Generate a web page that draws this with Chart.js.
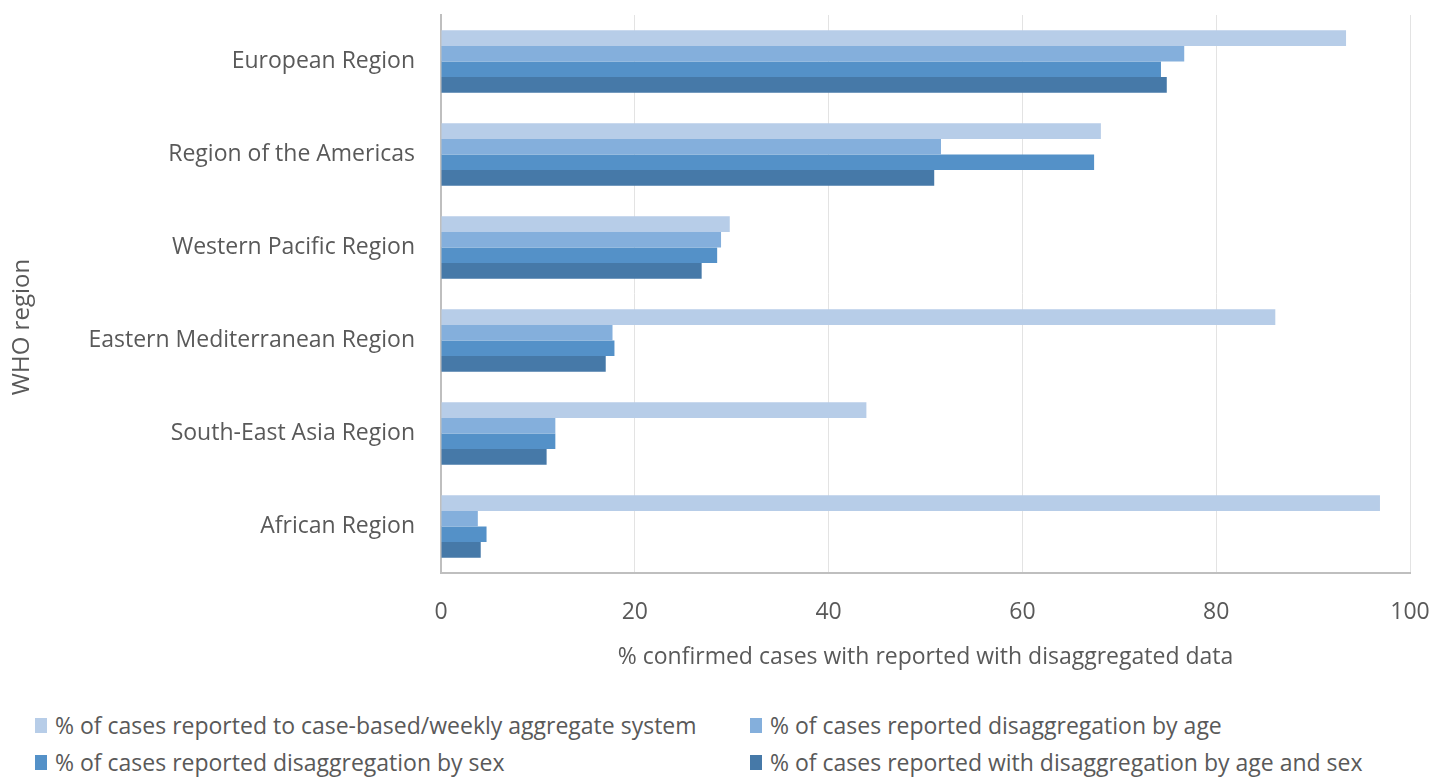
<!DOCTYPE html>
<html>
<head>
<meta charset="utf-8">
<script src="https://cdn.jsdelivr.net/npm/chart.js@4"></script>
<style>
  body { margin: 0; background: #fff; font-family: "Open Sans", sans-serif; }
  #wrap { position: relative; width: 1435px; height: 778px; }
  #chartBox { position: absolute; left: 0; top: 0; width: 1435px; height: 690px; }
  #legend { position: absolute; left: 35px; top: 709px; width: 1400px;
            display: grid; grid-template-columns: 715px 650px; row-gap: 5px;
            color: #595959; font-size: 23px; line-height: 32px; }
  #legend .item { display: flex; align-items: center; white-space: nowrap; }
  #legend .box { width: 12px; height: 15px; margin-right: 8px; }
</style>
</head>
<body>
<div id="wrap">
  <div id="chartBox"><canvas id="mainChart"></canvas></div>
  <div id="legend"></div>
</div>
<script>
// categories (top to bottom)
const regions = ['European Region', 'Region of the Americas', 'Western Pacific Region',
                 'Eastern Mediterranean Region', 'South-East Asia Region', 'African Region'];

// series values (%)
const caseBased = [93.4, 68.1, 29.8, 86.1, 43.9, 96.9];
const byAge     = [76.7, 51.6, 28.9, 17.7, 11.8, 3.8];
const bySex     = [74.3, 67.4, 28.5, 17.9, 11.8, 4.7];
const byAgeSex  = [74.9, 50.9, 26.9, 17.0, 10.9, 4.1];

const seriesNames = [
    '% of cases reported to case-based/weekly aggregate system',
    '% of cases reported disaggregation by  age',
    '% of cases reported disaggregation by sex',
    '% of cases reported with disaggregation by age and sex'
];
const seriesColors = ['#B7CDE8', '#84AFDC', '#5491C8', '#4679A8'];

const xTicks = [0, 20, 40, 60, 80, 100];

const textColor = '#595959';
const fontFam = '"Open Sans", sans-serif';

// y axis title, drawn centred on the whole chart height (like the original)
const yTitlePlugin = {
    id: 'yTitle',
    afterDraw(chart) {
        const c = chart.ctx;
        c.save();
        c.translate(22, 327);
        c.rotate(-Math.PI / 2);
        c.fillStyle = textColor;
        c.font = '24px ' + fontFam;
        c.textAlign = 'center';
        c.textBaseline = 'middle';
        c.fillText('WHO region', 0, 0);
        c.restore();
    }
};

const ctx = document.getElementById('mainChart').getContext('2d');
const mainChart = new Chart(ctx, {
    type: 'bar',
    data: {
        labels: regions,
        datasets: [caseBased, byAge, bySex, byAgeSex].map((vals, i) => ({
            label: seriesNames[i],
            data: vals,
            backgroundColor: seriesColors[i],
            borderWidth: 0,
            categoryPercentage: 0.67,
            barPercentage: 1.0
        }))
    },
    options: {
        indexAxis: 'y',
        responsive: true,
        maintainAspectRatio: false,
        animation: false,
        layout: { padding: { top: 15, right: 25, left: 0, bottom: 0 } },
        plugins: {
            legend: { display: false },
            tooltip: { enabled: false }
        },
        scales: {
            x: {
                min: 0, max: 100,
                afterBuildTicks: s => { s.ticks = xTicks.map(v => ({ value: v })); },
                grid: { color: '#e3e3e3', lineWidth: 1, drawTicks: false },
                border: { color: '#bfbfbf', width: 2 },
                ticks: { color: textColor, font: { family: fontFam, size: 23 }, padding: 26, maxRotation: 0 },
                title: {
                    display: true,
                    text: '% confirmed cases with reported with disaggregated data',
                    color: textColor,
                    font: { family: fontFam, size: 23 },
                    padding: { top: 0, bottom: 19 }
                },
                afterFit: s => {
                    s.height = 117;
                    s.paddingLeft = 0;
                    s.paddingRight = 0;
                }
            },
            y: {
                grid: { display: false, drawTicks: false },
                border: { color: '#bfbfbf', width: 2 },
                ticks: { color: textColor, font: { family: fontFam, size: 23 }, padding: 26 },
                afterFit: s => {
                    s.width = 441;
                    s.paddingTop = 0;
                    s.paddingBottom = 0;
                }
            }
        }
    },
    plugins: [yTitlePlugin]
});

// HTML legend in two columns, built from chart datasets
const legendEl = document.getElementById('legend');
mainChart.data.datasets.forEach(ds => {
    const item = document.createElement('div');
    item.className = 'item';
    const box = document.createElement('span');
    box.className = 'box';
    box.style.background = ds.backgroundColor;
    const txt = document.createElement('span');
    txt.textContent = ds.label;
    item.appendChild(box);
    item.appendChild(txt);
    legendEl.appendChild(item);
});
</script>
</body>
</html>
